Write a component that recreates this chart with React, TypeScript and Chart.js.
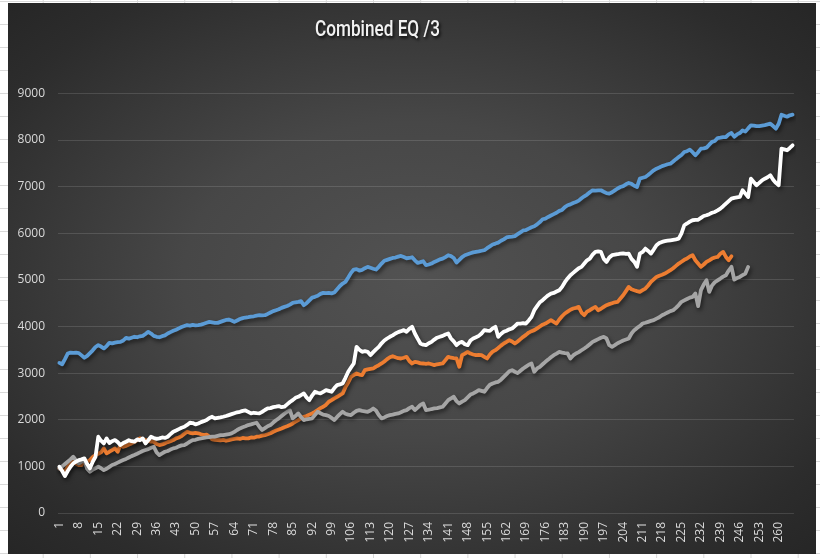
import { useEffect, useRef } from "react";
import { Chart, registerables } from "chart.js";

Chart.register(...registerables);

const TITLE = "Combined EQ /3";
const CATEGORIES: string[] = Array.from({ length: 265 }, (_, i) => String(i + 1));
const TICK_STEP = 7;
const Y_MIN = 0;
const Y_MAX = 9000;
const Y_STEP = 1000;

const BLUE_SERIES = [
  3220, 3190, 3300, 3420, 3440, 3435, 3440, 3430, 3380, 3330,
  3370, 3430, 3490, 3560, 3600, 3570, 3530, 3580, 3650, 3640,
  3655, 3665, 3670, 3700, 3757, 3740, 3760, 3780, 3770, 3790,
  3800, 3840, 3886, 3850, 3800, 3779, 3770, 3793, 3810, 3850,
  3880, 3907, 3930, 3960, 3990, 4010, 4029, 4020, 4035, 4025,
  4029, 4040, 4060, 4080, 4100, 4090, 4080, 4078, 4100, 4120,
  4140, 4150, 4130, 4100, 4130, 4160, 4180, 4193, 4200, 4210,
  4220, 4235, 4243, 4240, 4243, 4270, 4300, 4330, 4350, 4370,
  4400, 4421, 4440, 4470, 4507, 4520, 4530, 4543, 4457, 4500,
  4560, 4620, 4636, 4660, 4700, 4721, 4715, 4720, 4710, 4730,
  4800, 4870, 4922, 4957, 5050, 5150, 5222, 5230, 5200, 5215,
  5250, 5279, 5260, 5240, 5222, 5280, 5350, 5410, 5430, 5450,
  5471, 5480, 5500, 5514, 5490, 5464, 5470, 5486, 5420, 5364,
  5380, 5400, 5315, 5330, 5350, 5386, 5410, 5440, 5457, 5490,
  5529, 5510, 5470, 5372, 5430, 5490, 5529, 5550, 5570, 5590,
  5600, 5610, 5625, 5636, 5680, 5720, 5760, 5779, 5800, 5840,
  5870, 5910, 5922, 5930, 5940, 5980, 6020, 6060, 6070, 6100,
  6130, 6150, 6190, 6240, 6300, 6315, 6350, 6380, 6410, 6440,
  6480, 6500, 6560, 6600, 6620, 6650, 6671, 6700, 6750, 6793,
  6830, 6880, 6922, 6915, 6920, 6922, 6890, 6860, 6850, 6880,
  6920, 6960, 6993, 7010, 7050, 7079, 7060, 7020, 6993, 7172,
  7190, 7208, 7250, 7300, 7350, 7386, 7410, 7440, 7460, 7480,
  7493, 7540, 7590, 7636, 7680, 7743, 7760, 7793, 7740, 7672,
  7740, 7815, 7820, 7836, 7900, 7960, 7979, 8043, 8050, 8060,
  8065, 8120, 8150, 8072, 8120, 8150, 8207, 8180, 8250, 8315,
  8310, 8300, 8300, 8310, 8320, 8335, 8350, 8300, 8243, 8350,
  8543, 8520, 8500, 8530, 8543,
];

const ORANGE_SERIES = [
  957, 921, 893, 993, 1050, 1100, 1060, 1029, 1029, 1120,
  1100, 1136, 1200, 1243, 1270, 1300, 1386, 1280, 1314, 1350,
  1386, 1314, 1457, 1421, 1440, 1470, 1493, 1520, 1560, 1600,
  1580, 1564, 1550, 1529, 1529, 1480, 1457, 1470, 1493, 1520,
  1540, 1564, 1600, 1620, 1650, 1700, 1743, 1720, 1707, 1720,
  1710, 1690, 1672, 1680, 1640, 1579, 1570, 1564, 1560, 1570,
  1550, 1564, 1580, 1590, 1600, 1590, 1610, 1600, 1600, 1620,
  1615, 1636, 1640, 1660, 1671, 1690, 1710, 1743, 1770, 1790,
  1814, 1840, 1860, 1886, 1920, 1957, 1993, 2030, 2064, 2080,
  2110, 2136, 2170, 2210, 2250, 2279, 2320, 2386, 2420, 2460,
  2493, 2530, 2564, 2700, 2800, 2921, 2960, 2993, 2970, 2957,
  3065, 3080, 3090, 3100, 3140, 3170, 3207, 3250, 3300, 3340,
  3364, 3340, 3320, 3314, 3330, 3350, 3260, 3207, 3243, 3230,
  3210, 3207, 3200, 3207, 3190, 3172, 3190, 3200, 3207, 3280,
  3350, 3330, 3320, 3314, 3136, 3386, 3420, 3457, 3420, 3400,
  3386, 3390, 3386, 3350, 3314, 3400, 3460, 3493, 3540, 3590,
  3636, 3670, 3707, 3680, 3636, 3680, 3730, 3779, 3820, 3870,
  3900, 3922, 3960, 4000, 4040, 4064, 4100, 4136, 4100, 4064,
  4150, 4220, 4279, 4320, 4360, 4386, 4400, 4421, 4300, 4243,
  4320, 4350, 4390, 4421, 4350, 4380, 4420, 4457, 4480, 4500,
  4520, 4529, 4600, 4671, 4760, 4850, 4800, 4779, 4760, 4743,
  4780, 4814, 4880, 4957, 5010, 5064, 5090, 5110, 5136, 5170,
  5207, 5250, 5300, 5350, 5390, 5430, 5457, 5500, 5529, 5421,
  5350, 5279, 5330, 5386, 5420, 5457, 5480, 5493, 5560, 5600,
  5493, 5422, 5507,
];

const GRAY_SERIES = [
  957, 1000, 1050, 1100, 1150, 1207, 1130, 1064, 1100, 1136,
  950, 886, 930, 960, 993, 960, 921, 950, 990, 1029,
  1050, 1080, 1110, 1136, 1160, 1190, 1220, 1243, 1270, 1300,
  1330, 1350, 1370, 1400, 1421, 1300, 1243, 1280, 1314, 1330,
  1360, 1386, 1400, 1430, 1450, 1457, 1490, 1530, 1564, 1570,
  1590, 1600, 1610, 1620, 1630, 1636, 1640, 1655, 1670, 1671,
  1680, 1690, 1707, 1740, 1780, 1814, 1840, 1860, 1886, 1900,
  1920, 1936, 1850, 1779, 1820, 1860, 1886, 1940, 1990, 2029,
  2080, 2130, 2171, 2200, 2029, 2080, 2136, 2060, 1993, 2010,
  2020, 2029, 2100, 2171, 2140, 2110, 2100, 2080, 2040, 1993,
  2060, 2120, 2171, 2130, 2110, 2100, 2150, 2190, 2207, 2190,
  2180, 2171, 2200, 2243, 2200, 2100, 2029, 2050, 2080, 2100,
  2110, 2125, 2136, 2160, 2190, 2207, 2250, 2279, 2207, 2260,
  2320, 2350, 2207, 2215, 2230, 2243, 2250, 2265, 2279, 2350,
  2421, 2460, 2493, 2400, 2350, 2390, 2421, 2480, 2540, 2564,
  2600, 2636, 2620, 2600, 2680, 2750, 2779, 2800, 2814, 2860,
  2921, 2980, 3040, 3064, 3030, 3000, 3050, 3100, 3140, 3180,
  3207, 3029, 3100, 3136, 3190, 3243, 3290, 3340, 3386, 3420,
  3457, 3440, 3430, 3422, 3314, 3380, 3422, 3450, 3490, 3529,
  3570, 3620, 3671, 3700, 3730, 3760, 3779, 3743, 3600, 3564,
  3600, 3640, 3671, 3700, 3720, 3743, 3850, 3922, 3970, 4010,
  4064, 4080, 4100, 4120, 4136, 4170, 4200, 4243, 4270, 4300,
  4330, 4350, 4400, 4460, 4529, 4560, 4590, 4620, 4636, 4707,
  4436, 4779, 4900, 4993, 4743, 4880, 4950, 4990, 5029, 5070,
  5100, 5200, 5279, 5007, 5040, 5064, 5100, 5136, 5279,
];

const WHITE_SERIES = [
  993, 900, 793, 900, 993, 1064, 1100, 1136, 1150, 1172,
  1050, 957, 1100, 1207, 1636, 1550, 1493, 1600, 1500, 1540,
  1564, 1520, 1457, 1500, 1529, 1560, 1540, 1529, 1580, 1560,
  1600, 1493, 1560, 1636, 1610, 1590, 1600, 1620, 1610, 1636,
  1690, 1743, 1770, 1800, 1830, 1850, 1890, 1936, 1930, 1900,
  1920, 1950, 1970, 1993, 2040, 2064, 2029, 2040, 2050, 2064,
  2080, 2100, 2120, 2140, 2160, 2171, 2190, 2200, 2170, 2136,
  2150, 2140, 2136, 2170, 2210, 2243, 2250, 2270, 2280, 2293,
  2270, 2280, 2330, 2380, 2421, 2470, 2493, 2530, 2564, 2480,
  2421, 2520, 2600, 2580, 2564, 2600, 2636, 2620, 2600, 2680,
  2743, 2760, 2779, 2900, 3029, 3120, 3207, 3564, 3500, 3457,
  3470, 3457, 3386, 3450, 3510, 3564, 3640, 3700, 3743, 3780,
  3810, 3850, 3880, 3900, 3922, 3886, 3950, 3993, 3850, 3740,
  3636, 3610, 3600, 3640, 3671, 3720, 3760, 3779, 3800, 3830,
  3850, 3743, 3680, 3600, 3650, 3671, 3620, 3600, 3700, 3743,
  3770, 3800, 3850, 3922, 3910, 3907, 3960, 3993, 3779, 3840,
  3886, 3910, 3940, 3957, 4010, 4064, 4060, 4070, 4064, 4130,
  4207, 4350, 4436, 4520, 4564, 4620, 4670, 4707, 4720, 4750,
  4779, 4850, 4950, 5030, 5100, 5150, 5200, 5250, 5279, 5350,
  5420, 5457, 5540, 5600, 5610, 5600, 5450, 5386, 5480, 5529,
  5540, 5550, 5564, 5570, 5560, 5564, 5450, 5386, 5279, 5564,
  5600, 5671, 5620, 5564, 5650, 5743, 5790, 5815, 5830, 5840,
  5850, 5860, 5870, 5886, 6000, 6172, 6210, 6250, 6279, 6285,
  6290, 6330, 6370, 6386, 6410, 6440, 6457, 6490, 6529, 6580,
  6636, 6690, 6743, 6760, 6770, 6779, 6922, 6850, 6779, 7172,
  7100, 7029, 7080, 7136, 7170, 7200, 7243, 7150, 7080, 7029,
  7815, 7800, 7779, 7830, 7886,
];

const SERIES_NAMES = ["Series1", "Series2", "Series3", "Series4"];
const SERIES_COLORS = ["#5b9bd5", "#ed7d31", "#a5a5a5", "#ffffff"];

const TICK_FONT = "'Open Sans', 'DejaVu Sans', sans-serif";
const TITLE_FONT = "Roboto, 'Open Sans', sans-serif";
const TITLE_SQUEEZE = 0.78;
const TITLE_SHIFT_X = -28;

const shadowPlugin = {
  id: "lineShadow",
  beforeDraw(chart: any) {
    const tb = chart.titleBlock;
    if (tb && !tb.__shadowed) {
      const orig = tb.draw.bind(tb);
      tb.draw = (area: any) => {
        const ctx = chart.ctx;
        const cx = (tb.left + tb.right) / 2;
        ctx.save();
        ctx.translate(cx + TITLE_SHIFT_X, 0);
        ctx.scale(TITLE_SQUEEZE, 1);
        ctx.translate(-cx, 0);
        ctx.shadowColor = "rgba(0,0,0,0.8)";
        ctx.shadowBlur = 3;
        ctx.shadowOffsetX = 1.5;
        ctx.shadowOffsetY = 2;
        orig(area);
        ctx.restore();
      };
      tb.__shadowed = true;
    }
  },
  beforeDatasetDraw(chart: any) {
    const ctx = chart.ctx;
    ctx.save();
    ctx.shadowColor = "rgba(0,0,0,0.55)";
    ctx.shadowBlur = 4;
    ctx.shadowOffsetX = 1.5;
    ctx.shadowOffsetY = 2.5;
  },
  afterDatasetDraw(chart: any) {
    chart.ctx.restore();
  },
};

export default function App() {
  const canvasRef = useRef<HTMLCanvasElement | null>(null);

  useEffect(() => {
    if (!canvasRef.current) return;
    const seriesData = [BLUE_SERIES, ORANGE_SERIES, GRAY_SERIES, WHITE_SERIES];
    const orders = [3, 2, 1, 0];
    const chart = new Chart(canvasRef.current, {
      type: "line",
      data: {
        labels: CATEGORIES,
        datasets: seriesData.map((d, i) => ({
          label: SERIES_NAMES[i],
          data: d,
          borderColor: SERIES_COLORS[i],
          backgroundColor: SERIES_COLORS[i],
          borderWidth: 3.8,
          pointRadius: 0,
          pointHoverRadius: 0,
          tension: 0,
          fill: false,
          borderJoinStyle: "round" as const,
          borderCapStyle: "round" as const,
          order: orders[i],
        })),
      },
      options: {
        responsive: false,
        animation: false,
        maintainAspectRatio: false,
        layout: { padding: { left: 0, right: 13, top: 0, bottom: 0 } },
        plugins: {
          legend: { display: false },
          tooltip: { enabled: false },
          title: {
            display: true,
            text: TITLE,
            color: "#f2f2f2",
            font: { family: TITLE_FONT, size: 22, weight: "500", lineHeight: 1.2 },
            padding: { top: 14, bottom: 50 },
          },
        },
        scales: {
          x: {
            type: "category",
            offset: true,
            grid: { display: false, drawTicks: false },
            border: { display: false },
            ticks: {
              autoSkip: false,
              maxRotation: 90,
              minRotation: 90,
              padding: 9,
              color: "#d9d9d9",
              font: { family: TICK_FONT, size: 12 },
              callback: (_v: any, index: number) =>
                index % TICK_STEP === 0 ? CATEGORIES[index] : "",
            },
            afterFit: (scale: any) => {
              scale.height = 41;
            },
          },
          y: {
            min: Y_MIN,
            max: Y_MAX,
            grid: { color: "rgba(255,255,255,0.13)", lineWidth: 1, drawTicks: false },
            border: { display: false },
            ticks: {
              stepSize: Y_STEP,
              padding: 13,
              color: "#d9d9d9",
              font: { family: TICK_FONT, size: 12 },
              callback: (v: any) => String(v),
            },
            afterFit: (scale: any) => {
              scale.width = 50;
            },
          },
        },
      },
      plugins: [shadowPlugin],
    });
    return () => chart.destroy();
  }, []);

  return (
    <div
      style={{
        position: "fixed",
        left: 0,
        top: 0,
        width: 820,
        height: 558,
        backgroundColor: "#ffffff",
        backgroundImage:
          "linear-gradient(#d9d9d9 1px, transparent 1px), linear-gradient(90deg, #d9d9d9 1px, transparent 1px)",
        backgroundSize: "47.2px 23px",
        backgroundPosition: "42.7px 1px",
        overflow: "hidden",
      }}
    >
      <div
        style={{
          position: "absolute",
          left: 8,
          top: 3,
          width: 808,
          height: 551,
          background:
            "radial-gradient(ellipse farthest-corner at 50% 50%, #525252 0%, #474747 40%, #2c2c2c 85%, #262626 100%)",
        }}
      >
        <canvas ref={canvasRef} width={808} height={551} style={{ display: "block" }} />
      </div>
    </div>
  );
}
